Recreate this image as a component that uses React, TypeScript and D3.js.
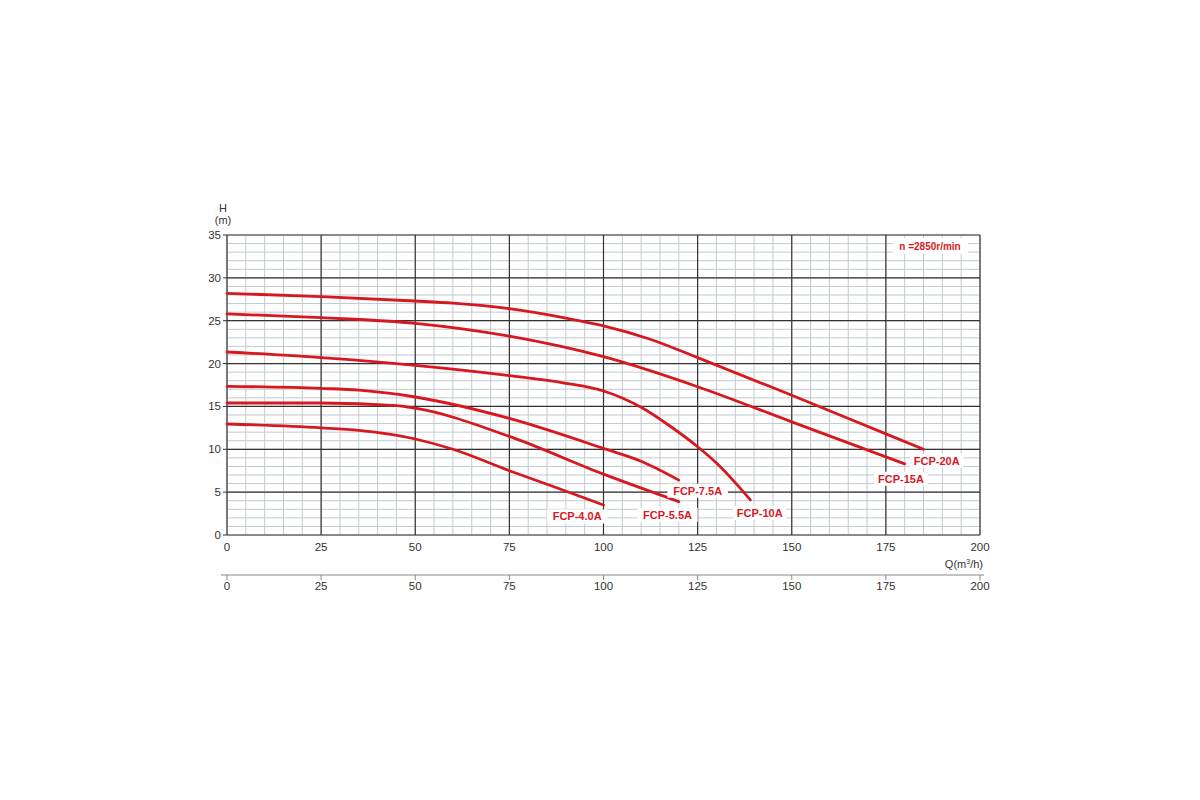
import React from "react";
import * as d3 from "d3";

const xTicks = [0, 25, 50, 75, 100, 125, 150, 175, 200];
const yTicks = [0, 5, 10, 15, 20, 25, 30, 35];

const fcp20Q = [0, 25, 50, 60, 75, 90, 100, 112, 125, 150, 175, 185];
const fcp20H = [28.2, 27.8, 27.3, 27.05, 26.4, 25.3, 24.4, 22.9, 20.7, 16.3, 11.8, 10.0];
const fcp15Q = [0, 25, 50, 75, 100, 125, 150, 180];
const fcp15H = [25.8, 25.35, 24.7, 23.2, 20.8, 17.3, 13.2, 8.3];
const fcp10Q = [0, 25, 50, 75, 90, 100, 110, 118, 125, 130, 139];
const fcp10H = [21.35, 20.7, 19.8, 18.6, 17.7, 16.8, 14.9, 12.6, 10.3, 8.4, 4.1];
const fcp75Q = [0, 25, 35, 50, 75, 100, 110, 120];
const fcp75H = [17.35, 17.1, 16.9, 16.1, 13.6, 10.1, 8.6, 6.4];
const fcp55Q = [0, 25, 45, 50, 75, 100, 120];
const fcp55H = [15.4, 15.4, 15.1, 14.8, 11.5, 7.1, 3.9];
const fcp40Q = [0, 25, 35, 50, 60, 75, 87, 100];
const fcp40H = [12.95, 12.5, 12.2, 11.2, 10.0, 7.5, 5.6, 3.5];

const seriesNames = ["FCP-20A", "FCP-15A", "FCP-10A", "FCP-7.5A", "FCP-5.5A", "FCP-4.0A"];
const seriesQ = [fcp20Q, fcp15Q, fcp10Q, fcp75Q, fcp55Q, fcp40Q];
const seriesH = [fcp20H, fcp15H, fcp10H, fcp75H, fcp55H, fcp40H];
// label anchor positions in data units
const labelQ = [188.5, 179, 141.5, 125, 117, 93];
const labelH = [8.2, 6.1, 2.1, 4.7, 1.9, 1.7];

const RED = "#d7191f";

export default function App() {
  const x = d3.scaleLinear().domain([0, 200]).range([227, 980]);
  const y = d3.scaleLinear().domain([0, 35]).range([535, 235]);
  const minorX = d3.range(0, 201, 5);
  const minorY = d3.range(0, 36, 1);
  const line = d3
    .line<[number, number]>()
    .x((d) => x(d[0]))
    .y((d) => y(d[1]))
    .curve(d3.curveMonotoneX);
  const font = "'Liberation Sans', Arial, sans-serif";

  return (
    <svg width={1200} height={800} style={{ position: "absolute", left: 0, top: 0, background: "#fff" }} fontFamily={font}>
      <rect x={0} y={0} width={1200} height={800} fill="#fff" />
      {minorX.map((v) => (
        <line key={"mx" + v} x1={x(v)} x2={x(v)} y1={y(0)} y2={y(35)} stroke="#c3cace" strokeWidth={1} />
      ))}
      {minorY.map((v) => (
        <line key={"my" + v} x1={x(0)} x2={x(200)} y1={y(v)} y2={y(v)} stroke="#c3cace" strokeWidth={1} />
      ))}
      {xTicks.map((v) => (
        <line key={"Mx" + v} x1={x(v)} x2={x(v)} y1={y(0)} y2={y(35)} stroke="#333" strokeWidth={1.2} />
      ))}
      {yTicks.map((v) => (
        <line key={"My" + v} x1={x(0)} x2={x(200)} y1={y(v)} y2={y(v)} stroke="#333" strokeWidth={1.2} />
      ))}
      {yTicks.map((v) => (
        <line key={"yt" + v} x1={x(0) - 4} x2={x(0)} y1={y(v)} y2={y(v)} stroke="#333" strokeWidth={1} />
      ))}
      {yTicks.map((v) => (
        <text key={"yl" + v} x={x(0) - 6} y={y(v) + 4} textAnchor="end" fontSize={11.5} fill="#333">
          {v}
        </text>
      ))}
      {xTicks.map((v) => (
        <text key={"xl" + v} x={x(v)} y={551} textAnchor="middle" fontSize={11.5} fill="#333">
          {v}
        </text>
      ))}
      <text x={223} y={212} textAnchor="middle" fontSize={11} fill="#333">H</text>
      <text x={223} y={224} textAnchor="middle" fontSize={11} fill="#333">(m)</text>
      <text x={983} y={568} textAnchor="end" fontSize={11} fill="#333">
        Q(m<tspan fontSize={7} dy={-4}>3</tspan><tspan dy={4}>/h)</tspan>
      </text>
      {/* secondary axis */}
      <line x1={221} x2={984} y1={575} y2={575} stroke="#888" strokeWidth={1} />
      {xTicks.map((v) => (
        <line key={"bt" + v} x1={x(v)} x2={x(v)} y1={575} y2={580} stroke="#888" strokeWidth={1} />
      ))}
      {xTicks.map((v) => (
        <text key={"bl" + v} x={x(v)} y={590} textAnchor="middle" fontSize={11.5} fill="#333">
          {v}
        </text>
      ))}
      {/* curves */}
      {seriesQ.map((qs, i) => (
        <path
          key={"c" + i}
          d={line(qs.map((q, j) => [q, seriesH[i][j]] as [number, number])) || ""}
          fill="none"
          stroke={RED}
          strokeWidth={2.8}
          strokeLinecap="round"
        />
      ))}
      {seriesNames.map((n, i) => {
        const w = n.length * 6.8 + 6;
        return (
          <g key={"lab" + i}>
            <rect x={x(labelQ[i]) - w / 2} y={y(labelH[i]) - 11} width={w} height={14} fill="#fff" />
            <text x={x(labelQ[i])} y={y(labelH[i])} textAnchor="middle" fontSize={11} fontWeight="bold" fill={RED}>
              {n}
            </text>
          </g>
        );
      })}
      <rect x={893} y={238} width={75} height={16} fill="#fff" />
      <text x={930} y={250} textAnchor="middle" fontSize={10} fontWeight="bold" fill={RED}>
        n =2850r/min
      </text>
    </svg>
  );
}
